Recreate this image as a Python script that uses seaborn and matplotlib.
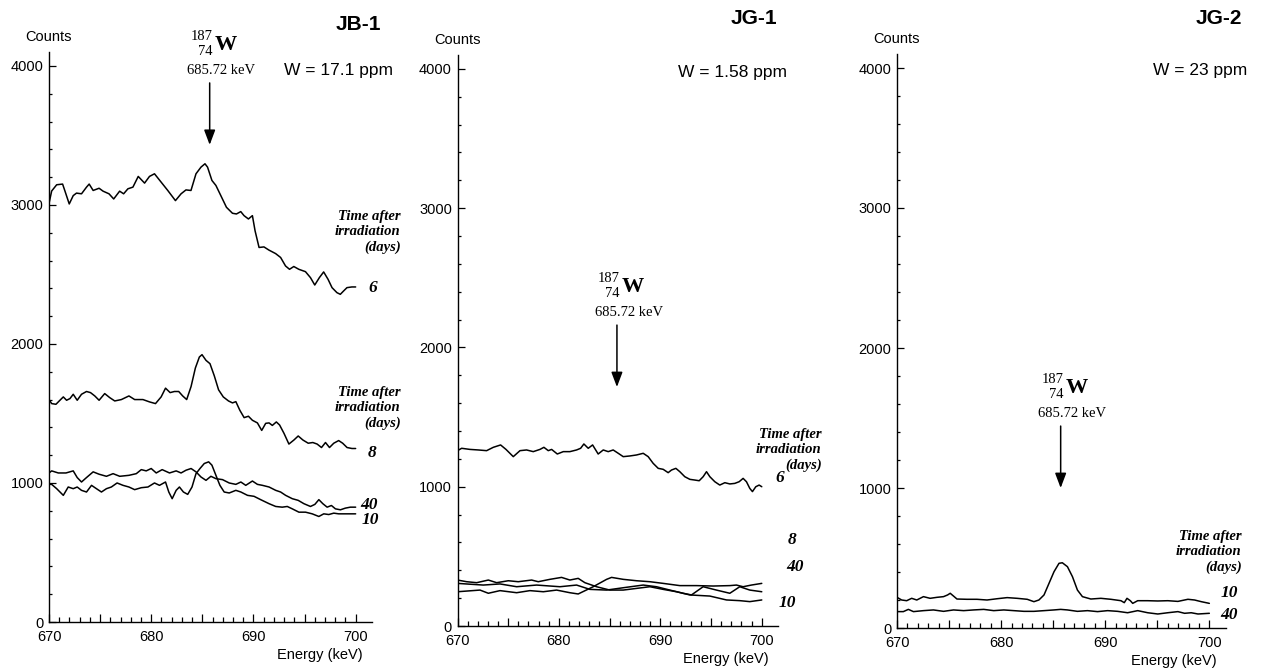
import numpy as np
import pandas as pd
import matplotlib
matplotlib.use("Agg")
import matplotlib.pyplot as plt
from matplotlib.ticker import MultipleLocator, FixedLocator, FuncFormatter
import seaborn as sns

# ---------------- spectra (energy in keV, counts) ----------------
# JB-1
jb1_e6 = [670.0, 670.26, 670.75, 671.33, 671.56, 671.98, 672.37, 672.69, 673.18, 673.67,
          673.93, 674.32, 674.90, 675.29, 675.87, 676.33, 676.91, 677.30, 677.72, 678.21,
          678.73, 679.35, 679.83, 680.32, 680.97, 681.62, 682.37, 682.92, 683.40, 683.89,
          684.38, 684.87, 685.26, 685.51, 685.94, 686.33, 686.81, 687.36, 687.95, 688.34,
          688.76, 689.08, 689.51, 689.90, 690.16, 690.55, 691.03, 691.52, 692.17, 692.66,
          693.14, 693.53, 693.95, 694.44, 695.09, 695.58, 696.00, 696.45, 696.87, 697.30,
          697.69, 698.17, 698.50, 698.82, 699.15, 699.63, 700.0]
jb1_c6 = [3010, 3100, 3145, 3150, 3100, 3007, 3067, 3085, 3080, 3128,
          3150, 3104, 3120, 3099, 3080, 3043, 3099, 3080, 3116, 3128,
          3205, 3157, 3205, 3224, 3164, 3104, 3031, 3080, 3108, 3104,
          3224, 3272, 3296, 3272, 3176, 3140, 3067, 2983, 2940, 2935,
          2952, 2923, 2899, 2923, 2814, 2694, 2698, 2675, 2650, 2622,
          2561, 2537, 2557, 2537, 2520, 2477, 2424, 2477, 2518, 2465,
          2405, 2369, 2357, 2381, 2405, 2410, 2410]

jb1_e8 = [670.0, 670.26, 670.68, 671.07, 671.40, 671.72, 672.05, 672.37, 672.76, 673.18,
          673.67, 674.06, 674.48, 674.90, 675.45, 675.94, 676.43, 677.08, 677.82, 678.38,
          679.19, 679.84, 680.42, 680.97, 681.40, 681.85, 682.27, 682.69, 683.08, 683.47,
          683.90, 684.32, 684.71, 684.97, 685.36, 685.75, 686.17, 686.59, 687.05, 687.56,
          687.95, 688.28, 688.67, 689.09, 689.51, 689.90, 690.39, 690.81, 691.20, 691.53,
          691.85, 692.24, 692.56, 692.99, 693.47, 693.96, 694.38, 694.84, 695.36, 695.81,
          696.23, 696.66, 697.05, 697.44, 697.86, 698.34, 698.73, 699.16, 699.64, 700.0]
jb1_c8 = [1600, 1571, 1566, 1595, 1619, 1595, 1607, 1638, 1595, 1638,
          1658, 1650, 1626, 1595, 1643, 1614, 1590, 1600, 1626, 1600,
          1600, 1583, 1571, 1619, 1682, 1650, 1658, 1658, 1626, 1600,
          1694, 1827, 1906, 1923, 1882, 1858, 1771, 1670, 1619, 1590,
          1576, 1585, 1523, 1470, 1480, 1451, 1432, 1378, 1429, 1432,
          1414, 1439, 1417, 1357, 1280, 1309, 1338, 1309, 1286, 1291,
          1280, 1255, 1291, 1255, 1286, 1305, 1286, 1255, 1248, 1248]

jb1_e40 = [670.0, 670.26, 670.91, 671.66, 672.37, 672.76, 673.18, 673.67, 674.32, 674.90,
           675.62, 676.27, 676.92, 677.82, 678.54, 679.03, 679.51, 680.00, 680.49, 681.07,
           681.79, 682.44, 682.92, 683.41, 683.90, 684.38, 684.87, 685.36, 685.84, 686.33,
           686.98, 687.63, 688.28, 688.77, 689.25, 689.90, 690.39, 690.88, 691.53, 692.18,
           692.66, 693.15, 693.80, 694.38, 694.94, 695.58, 696.01, 696.40, 696.79, 697.21,
           697.63, 698.02, 698.51, 698.99, 699.48, 700.0]
jb1_c40 = [1072, 1087, 1072, 1072, 1087, 1039, 1007, 1039, 1080, 1063,
           1048, 1067, 1048, 1055, 1067, 1096, 1087, 1104, 1072, 1096,
           1072, 1087, 1072, 1092, 1104, 1080, 1043, 1019, 1048, 1031,
           1024, 1000, 990, 1007, 983, 1014, 990, 983, 971, 947,
           935, 911, 887, 875, 851, 831, 846, 880, 851, 826,
           838, 814, 807, 819, 826, 826]

jb1_e10 = [670.0, 670.26, 670.75, 671.40, 671.88, 672.37, 672.76, 673.18, 673.67, 674.16,
           674.64, 675.13, 675.62, 676.10, 676.66, 677.24, 677.82, 678.38, 679.03, 679.68,
           680.32, 680.81, 681.40, 681.72, 682.05, 682.44, 682.76, 683.15, 683.57, 683.99,
           684.38, 684.77, 685.19, 685.62, 685.94, 686.33, 686.72, 687.14, 687.63, 688.28,
           688.77, 689.42, 690.06, 690.71, 691.53, 692.18, 692.82, 693.31, 693.80, 694.45,
           695.10, 695.75, 696.40, 696.88, 697.37, 697.86, 698.34, 698.99, 700.0]
jb1_c10 = [990, 990, 959, 911, 971, 959, 971, 947, 935, 983,
           959, 935, 959, 971, 1000, 983, 971, 952, 966, 971,
           1000, 983, 1007, 935, 887, 947, 971, 935, 918, 971,
           1067, 1104, 1140, 1152, 1128, 1055, 983, 935, 928, 947,
           935, 911, 904, 880, 851, 831, 826, 831, 814, 790,
           790, 778, 759, 778, 773, 783, 778, 778, 778]

# JG-1
jg1_e6 = [670.0, 670.41, 671.23, 672.05, 672.87, 673.53, 674.25, 674.78, 675.50, 676.16,
          676.81, 677.47, 678.13, 678.52, 678.95, 679.28, 679.84, 680.43, 681.08, 681.74,
          682.14, 682.46, 682.89, 683.32, 683.87, 684.37, 684.86, 685.35, 685.85, 686.34,
          687.00, 687.65, 688.31, 688.80, 689.29, 689.79, 690.28, 690.77, 691.10, 691.53,
          691.92, 692.41, 692.91, 693.40, 693.83, 694.22, 694.55, 694.88, 695.37, 695.86,
          696.36, 696.85, 697.34, 697.77, 698.16, 698.49, 698.82, 699.08, 699.41, 699.74, 700.0]
jg1_c6 = [1259, 1276, 1268, 1264, 1259, 1283, 1300, 1268, 1216, 1259,
          1264, 1252, 1268, 1283, 1259, 1268, 1235, 1252, 1252, 1264,
          1276, 1307, 1276, 1300, 1235, 1264, 1252, 1264, 1240, 1216,
          1221, 1228, 1240, 1216, 1168, 1132, 1125, 1101, 1120, 1132,
          1108, 1072, 1053, 1048, 1043, 1072, 1108, 1072, 1036, 1012,
          1029, 1020, 1024, 1036, 1060, 1036, 988, 965, 1000, 1012, 1000]

jg1_e8 = [670.0, 672.22, 673.04, 674.19, 675.83, 677.14, 678.46, 679.77, 681.08, 681.90,
          683.38, 684.70, 685.19, 686.34, 687.65, 688.97, 690.28, 691.92, 693.56, 695.20,
          696.85, 697.50, 698.16, 698.98, 700.0]
jg1_c8 = [246, 258, 235, 254, 239, 254, 246, 258, 239, 230,
          282, 335, 349, 335, 325, 318, 306, 290, 290, 287,
          290, 294, 282, 294, 306]

jg1_e40 = [670.0, 672.54, 674.19, 675.83, 677.80, 680.10, 681.74, 683.05, 684.70, 686.67,
           688.31, 689.62, 690.94, 692.25, 693.07, 694.22, 695.53, 696.85, 697.83, 698.82, 700.0]
jg1_c40 = [306, 294, 302, 282, 294, 282, 294, 263, 258, 278,
           294, 282, 258, 235, 223, 282, 258, 235, 282, 258, 246]

jg1_e10 = [670.0, 670.90, 671.89, 673.04, 673.86, 675.01, 675.99, 677.31, 677.96, 679.11,
           680.26, 681.08, 681.90, 682.56, 683.71, 685.02, 686.34, 687.65, 688.97, 690.28,
           691.59, 692.91, 694.88, 696.52, 697.83, 698.82, 700.0]
jg1_c10 = [330, 318, 311, 330, 311, 325, 318, 330, 318, 335,
           349, 330, 342, 311, 282, 258, 258, 270, 282, 263,
           246, 223, 215, 187, 182, 175, 187]

# JG-2
jg2_e10 = [670.0, 670.45, 670.93, 671.41, 671.90, 672.54, 673.18, 673.83, 674.47, 674.86,
           675.11, 675.43, 675.76, 676.72, 677.68, 678.65, 679.61, 680.58, 681.54, 682.51,
           683.15, 683.63, 684.12, 684.60, 685.08, 685.56, 685.88, 686.37, 686.85, 687.33,
           687.81, 688.62, 689.58, 690.55, 691.51, 691.83, 692.09, 692.41, 692.64, 693.12,
           694.08, 695.05, 696.01, 696.98, 697.94, 698.58, 699.23, 700.0]
jg2_c10 = [219, 200, 195, 212, 200, 224, 212, 219, 224, 236,
           248, 228, 207, 205, 205, 200, 209, 217, 212, 205,
           188, 200, 236, 319, 402, 462, 466, 438, 367, 271,
           224, 207, 212, 205, 195, 181, 212, 195, 176, 195,
           195, 193, 195, 190, 205, 200, 188, 176]

jg2_e40 = [670.0, 670.61, 671.09, 671.58, 672.54, 673.50, 674.47, 675.43, 676.40, 677.36,
           678.33, 679.29, 680.26, 681.22, 682.19, 683.15, 684.12, 685.08, 685.72, 686.37,
           687.33, 688.30, 689.26, 690.23, 691.19, 692.15, 693.12, 694.08, 695.05, 696.01,
           696.98, 697.62, 698.26, 698.91, 700.0]
jg2_c40 = [117, 117, 133, 117, 124, 129, 119, 129, 124, 129,
           133, 124, 129, 124, 119, 119, 124, 129, 133, 129,
           119, 124, 117, 124, 119, 109, 124, 109, 100, 109,
           117, 105, 109, 100, 105]

# ---------------- panel descriptions ----------------
samples = ["JB-1", "JG-1", "JG-2"]
concentrations = ["W = 17.1 ppm", "W = 1.58 ppm", "W = 23 ppm"]
peak_energy = 685.72
peak_label = "685.72 keV"
x_ticks = [670, 680, 690, 700]
y_ticks = [0, 1000, 2000, 3000, 4000]

spectra = {
    "JB-1": [(jb1_e6, jb1_c6), (jb1_e8, jb1_c8), (jb1_e40, jb1_c40), (jb1_e10, jb1_c10)],
    "JG-1": [(jg1_e6, jg1_c6), (jg1_e8, jg1_c8), (jg1_e40, jg1_c40), (jg1_e10, jg1_c10)],
    "JG-2": [(jg2_e10, jg2_c10), (jg2_e40, jg2_c40)],
}
# day labels: (text, energy, counts)
day_labels = {
    "JB-1": [("6", 701.65, 2403), ("8", 701.65, 1216), ("40", 701.35, 842), ("10", 701.45, 734)],
    "JG-1": [("6", 701.77, 1062), ("8", 702.96, 617), ("40", 703.25, 424), ("10", 702.56, 165)],
    "JG-2": [("10", 701.92, 250), ("40", 701.92, 93)],
}
# "Time after irradiation (days)" blocks: (right edge energy, counts at middle line)
time_blocks = {
    "JB-1": [(704.4, 2806), (704.4, 1540)],
    "JG-1": [(705.9, 1265)],
    "JG-2": [(703.1, 543)],
}
arrow_tips = {"JB-1": 3432, "JG-1": 1716, "JG-2": 1000}

# ---------------- figure ----------------
sns.set_theme(style="ticks")
plt.rcParams["font.family"] = ["Liberation Sans", "DejaVu Sans"]
plt.rcParams["axes.linewidth"] = 1.0

W, H = 1262, 669
fig = plt.figure(figsize=(W / 100, H / 100), dpi=100)


def px_box(left, right, top, bottom):
    return [left / W, 1 - bottom / H, (right - left) / W, (bottom - top) / H]


boxes = [px_box(49, 372, 52, 622), px_box(457.5, 778, 55, 626), px_box(897, 1226, 54, 628)]
serif = "Liberation Serif"

for name, box in zip(samples, boxes):
    ax = fig.add_axes(box)
    for e, c in spectra[name]:
        sns.lineplot(x=e, y=c, ax=ax, color="black", lw=1.1, estimator=None, sort=False)

    ax.set_xlim(670, 701.6)
    ax.set_ylim(0, 4100)
    sns.despine(ax=ax)
    for s in ("left", "bottom"):
        ax.spines[s].set_color("black")
        ax.spines[s].set_linewidth(1.0)

    ax.xaxis.set_major_locator(MultipleLocator(5))
    ax.xaxis.set_minor_locator(FixedLocator(np.arange(670, 701, 1)))
    ax.xaxis.set_major_formatter(
        FuncFormatter(lambda v, p: f"{int(round(v))}" if int(round(v)) in x_ticks else ""))
    ax.yaxis.set_major_locator(FixedLocator(y_ticks))
    ax.yaxis.set_minor_locator(MultipleLocator(200))
    ax.tick_params(axis="both", which="both", direction="in", colors="black",
                   labelsize=10.5, width=0.9)
    ax.tick_params(axis="x", which="major", length=6, pad=6)
    ax.tick_params(axis="x", which="minor", length=3.5)
    ax.tick_params(axis="y", which="major", length=5, pad=4)
    ax.tick_params(axis="y", which="minor", length=2.5)
    ax.set_xlabel("")
    ax.set_ylabel("")

    # "Counts" above the y axis and the energy label at the lower right
    ax.annotate("Counts", xy=(0.0, 1.0), xycoords="axes fraction", xytext=(0, 6),
                textcoords="offset points", ha="center", va="bottom", fontsize=10.5,
                color="black", annotation_clip=False)
    ax.annotate("Energy (keV)", xy=(700, 0), xycoords="data", xytext=(5, -24),
                textcoords="offset points", ha="right", va="center", fontsize=10.5,
                color="black", annotation_clip=False)

    # peak marker
    tip = arrow_tips[name]
    ax.annotate("", xy=(peak_energy, tip), xytext=(0, 44.6), textcoords="offset points",
                arrowprops=dict(arrowstyle="-|>,head_length=0.45,head_width=0.17",
                                mutation_scale=20, color="black", lw=1.1,
                                shrinkA=0, shrinkB=0), annotation_clip=False)
    ax.annotate(peak_label, xy=(peak_energy, tip), xytext=(8.5, 53.3),
                textcoords="offset points", ha="center", va="center",
                fontsize=10.5, family=serif, color="black", annotation_clip=False)
    ax.annotate("187", xy=(peak_energy, tip), xytext=(2.2, 77.8),
                textcoords="offset points", ha="right", va="center",
                fontsize=10.5, family=serif, color="black", annotation_clip=False)
    ax.annotate("74", xy=(peak_energy, tip), xytext=(2.2, 67.0),
                textcoords="offset points", ha="right", va="center",
                fontsize=10.5, family=serif, color="black", annotation_clip=False)
    ax.annotate("W", xy=(peak_energy, tip), xytext=(3.6, 72.0),
                textcoords="offset points", ha="left", va="center",
                fontsize=16, fontweight="bold", family=serif, color="black",
                annotation_clip=False)

    for txt, e, c in day_labels[name]:
        ax.text(e, c, txt, ha="center", va="center", fontsize=12.5, family=serif,
                fontweight="bold", fontstyle="italic", color="black", clip_on=False)
    for e, c in time_blocks[name]:
        ax.text(e, c, "Time after\nirradiation\n(days)", ha="right", va="center",
                multialignment="right", linespacing=1.25, fontsize=10.5, family=serif,
                fontweight="bold", fontstyle="italic", color="black", clip_on=False)

# sample names and W contents
title_pos = [(358, 24), (754, 19), (1219, 19)]
conc_pos = [(338, 70), (733, 73), (1200, 70)]
for name, conc, (tx, ty), (cx, cy) in zip(samples, concentrations, title_pos, conc_pos):
    fig.text(tx / W, 1 - ty / H, name, ha="center", va="center", fontsize=15,
             fontweight="bold", color="black")
    fig.text(cx / W, 1 - cy / H, conc, ha="center", va="center", fontsize=12.5,
             color="black")

fig.savefig("out.png", dpi=100, facecolor="white")
